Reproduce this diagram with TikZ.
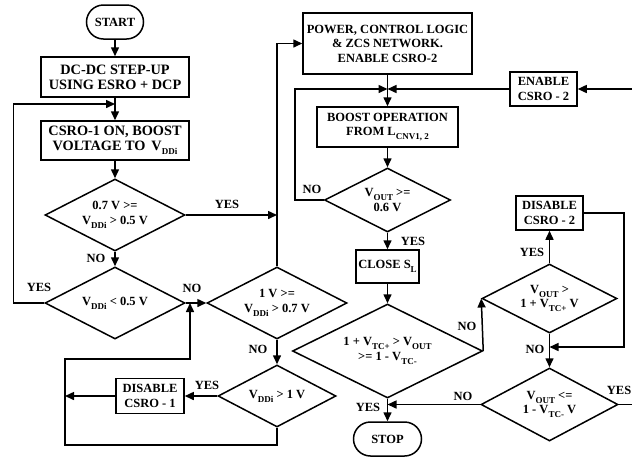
\documentclass[tikz,border=0pt]{standalone}
\usepackage{fontspec}
\setmainfont{Liberation Serif}
\usetikzlibrary{shapes.geometric,arrows.meta}
\newcommand{\sbx}[1]{\raisebox{-4pt}{\fontsize{9}{9}\selectfont #1}}
\begin{document}
\begin{tikzpicture}[x=1pt,y=-1pt,line width=1.5pt,
  font=\bfseries\fontsize{12.5}{14.5}\selectfont,
  box/.style={draw,rectangle,inner sep=0pt,align=center},
  bigbox/.style={box,font=\bfseries\fontsize{14.3}{15}\selectfont},
  term/.style={draw,rectangle,rounded corners=17pt,inner sep=0pt,align=center},
  dia/.style={draw,diamond,inner sep=0pt},
  txt/.style={align=center,inner sep=0pt},
  lab/.style={inner sep=0pt},
  arr/.style={-{Triangle[length=9pt,width=8pt]}}]
\useasboundingbox (0,0) rectangle (632,459);
% left column
\node[term,minimum width=57pt,minimum height=34pt] (start) at (115,22) {START};
\node[bigbox,minimum width=148pt,minimum height=40pt] (dcdc) at (115,77) {DC-DC STEP-UP\\USING ESRO + DCP};
\node[bigbox,minimum width=148pt,minimum height=39pt] (csro1) at (115,140.5) {CSRO-1 ON, BOOST\\VOLTAGE TO\, V\sbx{DDi}};
\node[dia,minimum width=140pt,minimum height=72pt,label={[txt]center:{0.7 V >=\\V\sbx{DDi} > 0.5 V}}] (d1) at (115,215) {};
\node[dia,minimum width=140pt,minimum height=72pt,label={[txt]center:{V\sbx{DDi} < 0.5 V}}] (d2) at (115,303) {};
\node[dia,minimum width=140pt,minimum height=72pt,label={[txt]center:{1 V >=\\V\sbx{DDi} > 0.7 V}}] (d3) at (277,303) {};
\node[dia,minimum width=118pt,minimum height=62pt,label={[txt]center:{V\sbx{DDi} > 1 V}}] (d4) at (277,396) {};
\node[box,minimum width=68pt,minimum height=35pt] (dis1) at (150,396) {DISABLE\\CSRO - 1};
% right column
\node[box,minimum width=169pt,minimum height=61pt] (power) at (387.5,43.5) {POWER, CONTROL LOGIC\\\& ZCS NETWORK.\\ENABLE CSRO-2};
\node[box,minimum width=67pt,minimum height=34pt] (enab2) at (543.5,89) {ENABLE\\CSRO - 2};
\node[box,minimum width=141pt,minimum height=40pt] (boost) at (387.5,127) {BOOST OPERATION\\FROM L\sbx{CNV1, 2}};
\node[dia,minimum width=126pt,minimum height=64pt,label={[txt]center:{V\sbx{OUT} >=\\0.6 V}}] (d5) at (387.5,200) {};
\node[box,minimum width=63pt,minimum height=33pt] (close) at (387.5,266.5) {CLOSE S\sbx{L}};
\node[dia,minimum width=190pt,minimum height=94pt,label={[txt]center:{1 + V\sbx{TC+} > V\sbx{OUT}\\>= 1 - V\sbx{TC-}}}] (d6) at (387.5,351) {};
\node[dia,minimum width=135pt,minimum height=69pt,label={[txt]center:{V\sbx{OUT} >\\1 + V\sbx{TC+} V}}] (d7) at (549.5,298.5) {};
\node[box,minimum width=67pt,minimum height=34pt] (dis2) at (549.5,213) {DISABLE\\CSRO - 2};
\node[dia,minimum width=137pt,minimum height=73pt,label={[txt]center:{V\sbx{OUT} <=\\1 - V\sbx{TC-} V}}] (d8) at (549.5,404.5) {};
\node[term,minimum width=68pt,minimum height=34pt] (stop) at (387.5,439) {STOP};
% junction coordinates
\coordinate (j1) at (115,104);
\coordinate (j2) at (277,215);
\coordinate (j4) at (190,303);
\coordinate (j3) at (65,396);
\coordinate (j5) at (387.5,89);
\coordinate (j6) at (549.5,347);
\coordinate (j7) at (387.5,404.5);
\coordinate (e1) at (632,89);
\coordinate (e2) at (632,404.5);
% connectors left
\draw[arr] (start) -- (dcdc);
\draw[arr] (dcdc) -- (csro1);
\draw[arr] (csro1) -- (d1);
\draw[arr] (d1.south) -- (d2.north);
\draw[arr] (d2.west) -- ++(-31,0) |- (j1);
\draw[arr] (d1.east) -- (j2);
\draw[arr] (d2.east) -- (d3.west);
\draw[arr] (d3.north) |- (power.west);
\draw[arr] (d3.south) -- (d4.north);
\draw[arr] (d4.west) -- (dis1.east);
\draw[arr] (dis1.west) -- (j3);
\draw[arr] (d4.south) -- ++(0,17) -| (65,359) -| (j4);
% connectors right
\draw[arr] (power) -- (boost);
\draw[arr] (d5.west) -- ++(-29,0) |- (j5);
\draw[arr] (enab2.west) -- (j5);
\draw[arr] (e1) -- (enab2.east);
\draw[arr] (boost) -- (d5.north);
\draw[arr] (d5.south) -- (close.north);
\draw[arr] (close) -- (d6.north);
\draw[arr] (d6.east) -- (d7.west);
\draw[arr] (d7.north) -- (dis2.south);
\draw[arr] (dis2.east) -- ++(40,0) |- (j6);
\draw[arr] (d7.south) -- (d8.north);
\draw[arr] (d8.west) -- (j7);
\draw[arr] (d6.south) -- (stop.north);
\draw (d8.east) -- (e2);
% labels
\node[lab] (l1) at (96,258) {NO};
\node[lab] (l2) at (39,287) {YES};
\node[lab] (l3) at (192,288) {NO};
\node[lab] (l4) at (227,204) {YES};
\node[lab] (l5) at (258,349) {NO};
\node[lab] (l6) at (207,385) {YES};
\node[lab] (l7) at (312,189) {NO};
\node[lab] (l8) at (413,241) {YES};
\node[lab] (l9) at (467,326) {NO};
\node[lab] (l10) at (532,252) {YES};
\node[lab] (l11) at (535,349) {NO};
\node[lab] (l12) at (463,396) {NO};
\node[lab] (l13) at (368,407) {YES};
\node[lab,anchor=east] (l14) at (632,390) {YES};
\end{tikzpicture}
\end{document}
